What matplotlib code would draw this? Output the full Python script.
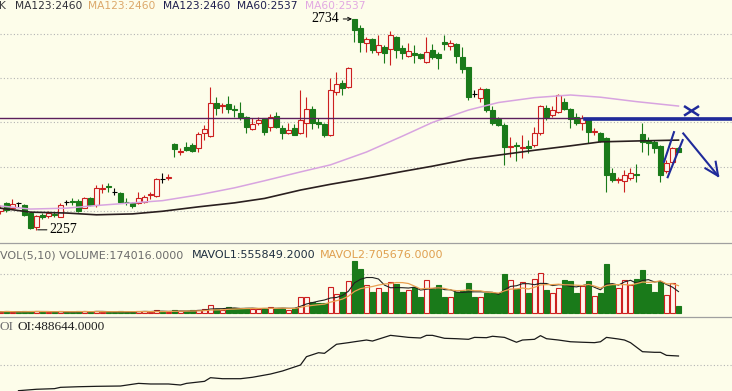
import numpy as np
import pandas as pd
import matplotlib
matplotlib.use("Agg")
import matplotlib.pyplot as plt

WIDTH_PX, HEIGHT_PX, DPI = 732, 391, 100

# daily candles (price units)
opens = [2300, 2317, 2307, 2318, 2313, 2296, 2263, 2290, 2288, 2292,
         2287, 2319, 2322, 2323, 2307, 2328, 2313, 2350, 2357, 2343,
         2340, 2321, 2318, 2317, 2321, 2335, 2334, 2372, 2375, 2451,
         2434, 2445, 2449, 2441, 2475, 2469, 2543, 2538, 2541, 2530,
         2521, 2513, 2485, 2498, 2509, 2489, 2515, 2487, 2477, 2487,
         2475, 2498, 2530, 2502, 2497, 2472, 2569, 2590, 2579, 2733,
         2713, 2680, 2688, 2660, 2671, 2665, 2694, 2668, 2651, 2658,
         2654, 2637, 2664, 2655, 2683, 2673, 2677, 2649, 2625, 2564,
         2555, 2575, 2527, 2507, 2494, 2444, 2448, 2442, 2447, 2449,
         2475, 2532, 2517, 2524, 2547, 2530, 2512, 2498, 2507, 2478,
         2477, 2465, 2385, 2370, 2368, 2375, 2384, 2473, 2458, 2456,
         2447, 2389, 2411, 2442]
highs = [2313, 2321, 2326, 2321, 2315, 2298, 2291, 2294, 2300, 2297,
         2318, 2325, 2329, 2326, 2332, 2331, 2358, 2360, 2364, 2352,
         2343, 2329, 2321, 2343, 2336, 2342, 2375, 2385, 2383, 2454,
         2441, 2456, 2453, 2479, 2494, 2581, 2557, 2543, 2560, 2539,
         2547, 2515, 2509, 2513, 2511, 2519, 2524, 2494, 2498, 2497,
         2573, 2557, 2537, 2509, 2499, 2600, 2615, 2596, 2626, 2734,
         2720, 2694, 2690, 2698, 2675, 2707, 2695, 2675, 2679, 2675,
         2658, 2694, 2677, 2660, 2698, 2686, 2680, 2671, 2626, 2573,
         2580, 2577, 2536, 2513, 2498, 2468, 2456, 2472, 2460, 2490,
         2539, 2539, 2536, 2564, 2555, 2532, 2521, 2517, 2509, 2487,
         2479, 2468, 2396, 2377, 2392, 2396, 2407, 2498, 2468, 2460,
         2449, 2415, 2445, 2445]
lows = [2293, 2298, 2306, 2309, 2288, 2260, 2257, 2281, 2284, 2286,
        2286, 2313, 2313, 2298, 2307, 2311, 2309, 2340, 2343, 2336,
        2317, 2313, 2307, 2315, 2318, 2326, 2332, 2364, 2370, 2422,
        2426, 2436, 2432, 2434, 2460, 2468, 2517, 2521, 2521, 2513,
        2505, 2477, 2483, 2494, 2472, 2481, 2487, 2462, 2474, 2472,
        2474, 2466, 2484, 2487, 2468, 2470, 2562, 2562, 2577, 2683,
        2660, 2660, 2656, 2652, 2635, 2630, 2645, 2643, 2649, 2634,
        2643, 2634, 2643, 2620, 2664, 2664, 2634, 2611, 2551, 2558,
        2547, 2524, 2494, 2492, 2404, 2422, 2413, 2419, 2430, 2445,
        2472, 2505, 2513, 2521, 2528, 2487, 2494, 2483, 2453, 2472,
        2456, 2343, 2366, 2362, 2343, 2370, 2366, 2434, 2426, 2430,
        2366, 2385, 2409, 2432]
closes = [2306, 2302, 2315, 2318, 2291, 2261, 2288, 2287, 2294, 2290,
          2313, 2319, 2320, 2300, 2330, 2313, 2352, 2352, 2355, 2343,
          2321, 2319, 2311, 2328, 2332, 2337, 2372, 2372, 2377, 2439,
          2436, 2438, 2436, 2474, 2484, 2545, 2533, 2540, 2530, 2528,
          2513, 2489, 2496, 2505, 2479, 2513, 2489, 2477, 2483, 2472,
          2505, 2530, 2498, 2496, 2472, 2573, 2588, 2577, 2622, 2709,
          2683, 2688, 2664, 2675, 2658, 2698, 2664, 2656, 2662, 2653,
          2645, 2660, 2649, 2645, 2677, 2679, 2650, 2620, 2557, 2564,
          2575, 2528, 2498, 2494, 2445, 2446, 2446, 2444, 2442, 2475,
          2536, 2513, 2528, 2562, 2530, 2507, 2498, 2509, 2479, 2480,
          2459, 2381, 2370, 2372, 2381, 2385, 2382, 2456, 2453, 2442,
          2381, 2409, 2442, 2434]
volumes = [38000, 51000, 38000, 25000, 51000, 51000, 64000, 38000, 25000, 25000,
           64000, 25000, 25000, 51000, 64000, 38000, 64000, 25000, 25000, 25000,
           51000, 38000, 38000, 64000, 51000, 38000, 76000, 38000, 38000, 76000,
           64000, 64000, 76000, 89000, 102000, 211000, 102000, 84000, 153000, 127000,
           145000, 127000, 102000, 102000, 127000, 171000, 127000, 127000, 84000, 127000,
           425000, 425000, 298000, 272000, 272000, 680000, 491000, 552000, 822000, 1331000,
           1127000, 720000, 552000, 636000, 552000, 789000, 746000, 534000, 593000, 662000,
           425000, 847000, 611000, 720000, 407000, 407000, 552000, 568000, 781000, 425000,
           407000, 527000, 527000, 527000, 993000, 847000, 611000, 789000, 527000, 865000,
           1018000, 593000, 527000, 636000, 847000, 822000, 527000, 695000, 822000, 440000,
           509000, 1255000, 746000, 636000, 847000, 720000, 873000, 1102000, 738000, 552000,
           807000, 466000, 764000, 174016]

# moving averages of price, read at sample candles
ma_index = [0, 5, 11, 16, 22, 27, 33, 39, 44, 50, 55, 61, 67, 72, 78, 83, 89, 95, 100, 106, 113]
ma60_value = [2311, 2304, 2306, 2312, 2318, 2323, 2336, 2352, 2368, 2388, 2404,
              2433, 2469, 2500, 2528, 2545, 2556, 2562, 2557, 2547, 2537]
ma123_value = [2306, 2297, 2295, 2291, 2293, 2299, 2309, 2318, 2328, 2347, 2360,
               2374, 2389, 2401, 2417, 2426, 2437, 2447, 2456, 2458, 2460]

# open interest, read at sample candles
oi_index = [3, 6, 9, 10, 13, 16, 20, 23, 25, 28, 30, 31, 34, 35, 37, 40, 42, 45, 47, 50,
            51, 53, 54, 56, 58, 59, 61, 62, 65, 67, 68, 70, 71, 72, 74, 76, 78, 79, 81, 82,
            84, 86, 87, 89, 90, 91, 93, 95, 97, 99, 100, 101, 103, 104, 105, 107, 109, 110,
            111, 113]
oi_value = [147000, 161000, 167000, 180000, 186000, 190000, 193000, 219000, 213000, 213000,
            203000, 219000, 239000, 275000, 265000, 265000, 279000, 311000, 341000, 400000,
            482000, 521000, 515000, 604000, 620000, 629000, 646000, 636000, 692000, 679000,
            672000, 666000, 692000, 692000, 663000, 659000, 653000, 672000, 669000, 683000,
            672000, 624000, 646000, 653000, 689000, 659000, 646000, 629000, 624000, 620000,
            629000, 672000, 656000, 646000, 620000, 531000, 525000, 525000, 495000, 488644]

price_grid = [2300, 2400, 2500, 2600, 2700]
support_level = 2509
drawn_level = 2507

BACKGROUND = "#fdfdea"
UP = "#cc2020"
UP_FILL = "#fff6ee"
DOWN = "#1a7a1a"
GRID = "#b4b4b4"
PEN = "#1f2a9a"


def panel(fig, top_px, bottom_px):
    rect = [0.0, 1 - bottom_px / HEIGHT_PX, 1.0, (bottom_px - top_px) / HEIGHT_PX]
    ax = fig.add_axes(rect)
    ax.set_facecolor(BACKGROUND)
    ax.set_xlim(-0.08, -0.08 + WIDTH_PX / 6.0)
    ax.set_xticks([])
    ax.set_yticks([])
    for side in ("left", "right", "bottom", "top"):
        ax.spines[side].set_visible(False)
    return ax


def dotted(ax, level):
    ax.axhline(level, color=GRID, lw=0.8, linestyle=(0, (1, 2)), zorder=1)


def candle_style(o, c):
    if c > o:
        return UP, UP_FILL
    if c < o:
        return DOWN, DOWN
    return "#000000", "#000000"


fig = plt.figure(figsize=(WIDTH_PX / DPI, HEIGHT_PX / DPI), dpi=DPI)
fig.patch.set_facecolor(BACKGROUND)

# price panel
price = panel(fig, 0, 243)
price.set_ylim(2227.2, 2776.9)
for level in price_grid:
    dotted(price, level)
for i, (o, h, l, c) in enumerate(zip(opens, highs, lows, closes)):
    edge, face = candle_style(o, c)
    price.vlines(i, l, h, color=edge, lw=0.8, zorder=2)
    price.bar(i, max(abs(c - o), 0.01), bottom=min(o, c), width=0.68,
              facecolor=face, edgecolor=edge, lw=0.8, zorder=3)
price.plot(ma_index, ma123_value, color="#2a1f1f", lw=1.2, zorder=4)
price.plot(ma_index, ma60_value, color="#d8a4e0", lw=1.1, zorder=4)
price.axhline(support_level, color="#5c1f5c", lw=1.0, zorder=4)
price.plot([97.4, 125], [drawn_level, drawn_level], color=PEN, lw=2.6, zorder=5)

# hand drawn marks
price.plot([114.1, 116.25], [2535.5, 2516.8], color=PEN, lw=1.8, zorder=6)
price.plot([114.1, 116.25], [2516.8, 2535.5], color=PEN, lw=1.8, zorder=6)
price.plot([110.6, 112.25], [2411, 2478], color=PEN, lw=1.5, zorder=6)
price.plot([111.2, 113.7], [2376, 2460], color=PEN, lw=1.5, zorder=6)
price.plot([113.8, 119.6], [2475, 2379], color=PEN, lw=1.5, zorder=6)
price.plot([117.5, 119.6, 119.2], [2396, 2379, 2411], color=PEN, lw=1.5, zorder=6)

price.annotate("2734", xy=(59 - 0.4, 2734), xytext=(-13, 0), textcoords="offset pixels",
               ha="right", va="center", fontsize=10, family="Liberation Serif",
               arrowprops=dict(arrowstyle="->", color="black", lw=0.7,
                               shrinkA=1, shrinkB=0, mutation_scale=6))
price.annotate("2257", xy=(6.2, 2257), xytext=(12, 0), textcoords="offset pixels",
               ha="left", va="center", fontsize=10, family="Liberation Serif",
               arrowprops=dict(arrowstyle="-", color="black", lw=0.7, shrinkA=0, shrinkB=0))

# volume panel
vol = panel(fig, 243, 317.3)
vol.set_ylim(-101800, 1789000)
vol.spines["top"].set_visible(True)
vol.spines["top"].set_color("#a0a0a0")
vol.spines["top"].set_linewidth(0.9)
dotted(vol, 1_000_000)
for i, (o, c, v) in enumerate(zip(opens, closes, volumes)):
    if c > o:
        edge, face = UP, UP_FILL
    else:
        edge, face = DOWN, DOWN
    vol.bar(i, v, width=0.68, facecolor=face, edgecolor=edge, lw=0.8, zorder=3)
vol_series = pd.Series(volumes, dtype=float)
mavol1 = vol_series.rolling(5, min_periods=1).mean()
mavol2 = vol_series.rolling(10, min_periods=1).mean()
vol.plot(np.arange(len(volumes)), mavol1, color="#202020", lw=0.8, zorder=4)
vol.plot(np.arange(len(volumes)), mavol2, color="#e8a050", lw=0.9, zorder=4)

# open interest panel
oi = panel(fig, 317.3, 391)
oi.set_ylim(143900, 869800)
oi.spines["top"].set_visible(True)
oi.spines["top"].set_color("#a0a0a0")
oi.spines["top"].set_linewidth(0.9)
dotted(oi, 400000)
oi.plot(oi_index, oi_value, color="#1a1a1a", lw=0.9, zorder=3)


def label(x_px, y_px, text, color, size=7.7, family="DejaVu Sans"):
    fig.text(x_px / WIDTH_PX, 1 - y_px / HEIGHT_PX, text, color=color,
             fontsize=size, family=family, ha="left", va="center")


label(-1, 6, "K", "#404040")
label(15, 6, "MA123:2460", "#303038")
label(88, 6, "MA123:2460", "#dca86a")
label(163, 6, "MA123:2460", "#1e1e4e")
label(237, 6, "MA60:2537", "#1e1e4e")
label(305, 6, "MA60:2537", "#e2a8e2")

label(0, 255, "VOL(5,10) VOLUME:174016.0000", "#6c6c6c", size=8.0)
label(192, 255, "MAVOL1:555849.2000", "#203040", size=8.0)
label(320, 255, "MAVOL2:705676.0000", "#e0a050", size=8.0)

label(0, 327, "OI", "#707070", size=9.5, family="Liberation Serif")
label(18, 327, "OI:488644.0000", "#202020", size=9.5, family="Liberation Serif")

fig.savefig("out.png", dpi=DPI, facecolor=BACKGROUND)
